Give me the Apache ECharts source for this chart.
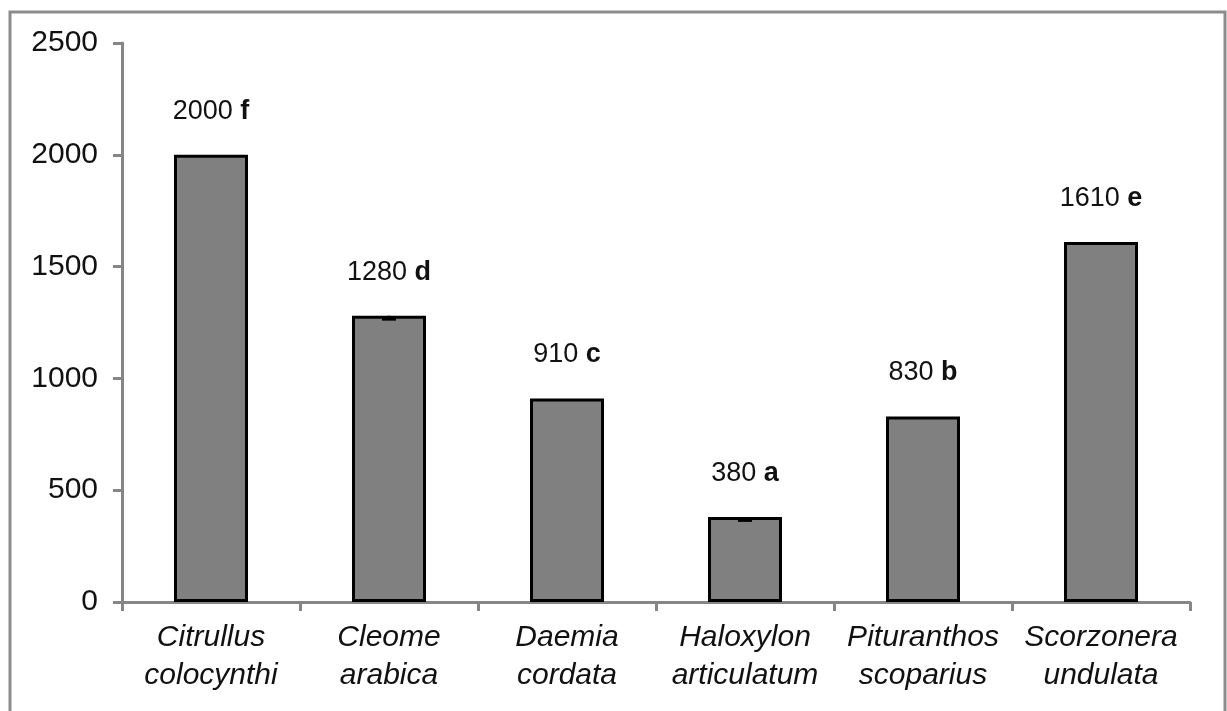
<!DOCTYPE html>
<html>
<head>
<meta charset="utf-8">
<script src="https://cdn.jsdelivr.net/npm/echarts@6/dist/echarts.min.js"></script>
<style>
html,body{margin:0;padding:0;background:#fff;}
#chart{width:1227px;height:711px;}
</style>
</head>
<body>
<div id="chart"></div>
<script>
var categories = ['Citrullus\ncolocynthi', 'Cleome\narabica', 'Daemia\ncordata', 'Haloxylon\narticulatum', 'Pituranthos\nscoparius', 'Scorzonera\nundulata'];
var values = [2000, 1280, 910, 380, 830, 1610];
var letters = ['f', 'd', 'c', 'a', 'b', 'e'];
var errors = [0, 15, 0, 15, 0, 0];
var yTicks = [0, 500, 1000, 1500, 2000, 2500];

var chart = echarts.init(document.getElementById('chart'));
var errData = values.map(function (v, i) { return [i, v, errors[i]]; });

chart.setOption({
  animation: false,
  backgroundColor: '#fff',
  graphic: [{
    type: 'rect',
    shape: { x: 10, y: 12, width: 1215, height: 800 },
    style: { fill: 'none', stroke: '#8c8c8c', lineWidth: 3 },
    silent: true
  }],
  grid: { left: 122, right: 37, top: 43, bottom: 109, containLabel: false },
  xAxis: {
    type: 'category',
    data: categories,
    axisLine: { lineStyle: { color: '#868686', width: 3 } },
    axisTick: { show: true, length: 9, lineStyle: { color: '#868686', width: 3 } },
    axisLabel: {
      interval: 0, margin: 17, fontFamily: 'Liberation Sans', fontStyle: 'italic',
      fontSize: 30, lineHeight: 38, color: '#111'
    }
  },
  yAxis: {
    type: 'value', min: 0, max: 2500, interval: 500,
    splitLine: { show: false },
    axisLine: { show: true, lineStyle: { color: '#868686', width: 3 } },
    axisTick: { show: true, length: 9, lineStyle: { color: '#868686', width: 3 } },
    axisLabel: {
      margin: 24, fontFamily: 'Liberation Sans', fontSize: 30, color: '#111',
      formatter: function (v) { return yTicks.indexOf(v) >= 0 ? String(v) : ''; }
    }
  },
  series: [{
    type: 'bar',
    data: values,
    barWidth: 74,
    itemStyle: { color: '#808080', borderColor: '#000', borderWidth: 3 },
    label: {
      show: true, position: 'top', distance: 30,
      formatter: function (p) { return '{n|' + values[p.dataIndex] + ' }{b|' + letters[p.dataIndex] + '}'; },
      rich: {
        n: { fontFamily: 'Liberation Sans', fontSize: 27, color: '#111' },
        b: { fontFamily: 'Liberation Sans', fontSize: 27, fontWeight: 'bold', color: '#111' }
      }
    },
    z: 2
  }, {
    type: 'custom',
    data: errData,
    z: 3,
    renderItem: function (params, api) {
      var e = api.value(2);
      if (!e) return null;
      var top = api.coord([api.value(0), api.value(1)]);
      var low = api.coord([api.value(0), api.value(1) - e]);
      var hw = 7;
      return {
        type: 'group',
        children: [
          { type: 'line', shape: { x1: top[0], y1: top[1], x2: low[0], y2: low[1] }, style: { stroke: '#000', lineWidth: 3 } },
          { type: 'line', shape: { x1: low[0] - hw, y1: low[1], x2: low[0] + hw, y2: low[1] }, style: { stroke: '#000', lineWidth: 3 } }
        ]
      };
    }
  }]
});
</script>
</body>
</html>
